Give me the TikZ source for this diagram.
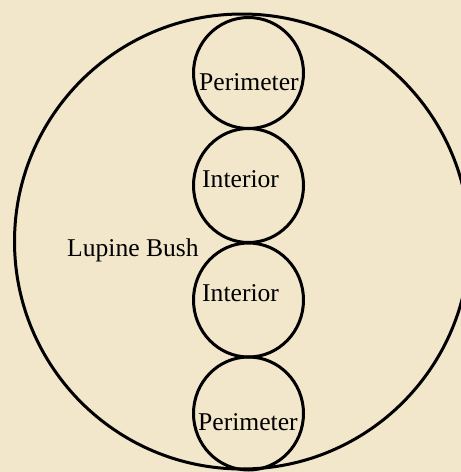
\documentclass[tikz,border=0pt]{standalone}
\usepackage{fontspec}
\setmainfont{Liberation Serif}
\definecolor{paper}{RGB}{242,230,203}
\begin{document}
\begin{tikzpicture}[x=1pt,y=-1pt,
  ring/.style={draw=black,line width=3pt},
  lbl/.style={anchor=base west,inner sep=0pt,font=\fontsize{25.6}{28}\selectfont,text=black}]
\fill[paper] (0,0) rectangle (461,472);
\useasboundingbox (0,0) rectangle (461,472);
\draw[ring] (242,241.5) circle[radius=227.5];
\draw[ring] (248.5,73) ellipse[x radius=55,y radius=55.5];
\draw[ring] (248.5,185.5) ellipse[x radius=55,y radius=57];
\draw[ring] (248.5,300) ellipse[x radius=55,y radius=57];
\draw[ring] (248.5,413.5) ellipse[x radius=55,y radius=56.5];
\node[lbl] (p1) at (199,90.5) {Perimeter};
\node[lbl] (i1) at (202,187) {Interior};
\node[lbl] (lb) at (67,256) {Lupine Bush};
\node[lbl] (i2) at (202,301) {Interior};
\node[lbl] (p2) at (198,430) {Perimeter};
\end{tikzpicture}
\end{document}
